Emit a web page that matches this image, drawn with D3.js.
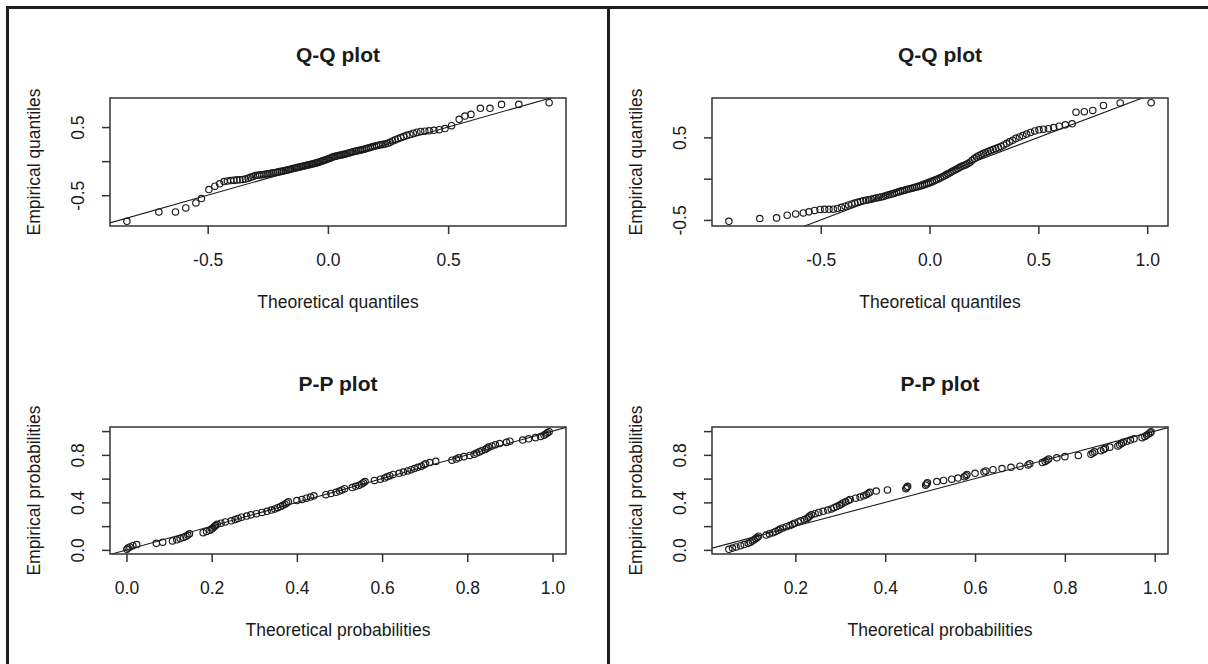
<!DOCTYPE html>
<html>
<head>
<meta charset="utf-8">
<script src="https://cdn.jsdelivr.net/npm/d3@7"></script>
<style>
  html, body { margin: 0; padding: 0; background: #fff; }
  svg { display: block; font-family: "Liberation Sans", Arial, sans-serif; }
</style>
</head>
<body>
<svg id="chart" width="1208" height="664"></svg>
<script>
// ---- Data: [theoretical, empirical] pairs for each diagnostic plot ----
const qqLeftPoints = [
  [-0.836,-0.882],[-0.703,-0.745],[-0.634,-0.745],[-0.591,-0.686],[-0.549,-0.613],[-0.526,-0.549],
  [-0.495,-0.417],[-0.470,-0.368],[-0.450,-0.333],[-0.432,-0.300],[-0.418,-0.290],[-0.404,-0.284],
  [-0.391,-0.282],[-0.378,-0.275],[-0.366,-0.272],[-0.354,-0.268],[-0.343,-0.262],[-0.332,-0.250],
  [-0.322,-0.238],[-0.312,-0.225],[-0.302,-0.212],[-0.293,-0.208],[-0.284,-0.204],[-0.275,-0.200],
  [-0.266,-0.196],[-0.257,-0.190],[-0.249,-0.186],[-0.241,-0.182],[-0.233,-0.176],[-0.225,-0.170],
  [-0.217,-0.166],[-0.209,-0.160],[-0.201,-0.154],[-0.193,-0.150],[-0.186,-0.145],[-0.178,-0.138],
  [-0.171,-0.132],[-0.163,-0.126],[-0.156,-0.119],[-0.149,-0.112],[-0.141,-0.106],[-0.134,-0.100],
  [-0.127,-0.094],[-0.120,-0.088],[-0.113,-0.082],[-0.106,-0.076],[-0.099,-0.070],[-0.092,-0.064],
  [-0.085,-0.058],[-0.078,-0.052],[-0.071,-0.047],[-0.064,-0.041],[-0.057,-0.035],[-0.050,-0.029],
  [-0.043,-0.022],[-0.036,-0.014],[-0.029,-0.006],[-0.022,0.004],[-0.015,0.012],[-0.008,0.020],
  [-0.001,0.030],[0.006,0.040],[0.013,0.050],[0.020,0.060],[0.027,0.068],[0.034,0.075],
  [0.041,0.080],[0.048,0.086],[0.055,0.090],[0.062,0.096],[0.069,0.102],[0.076,0.108],
  [0.083,0.116],[0.091,0.124],[0.098,0.132],[0.105,0.138],[0.113,0.145],[0.120,0.150],
  [0.128,0.156],[0.136,0.162],[0.143,0.168],[0.151,0.176],[0.159,0.184],[0.168,0.192],
  [0.176,0.200],[0.184,0.210],[0.193,0.218],[0.202,0.226],[0.211,0.234],[0.220,0.240],
  [0.229,0.246],[0.239,0.252],[0.249,0.262],[0.259,0.276],[0.269,0.296],[0.280,0.312],
  [0.291,0.328],[0.303,0.345],[0.315,0.360],[0.328,0.378],[0.341,0.392],[0.355,0.410],
  [0.370,0.425],[0.386,0.436],[0.403,0.440],[0.421,0.445],[0.441,0.452],[0.463,0.462],
  [0.487,0.478],[0.514,0.520],[0.546,0.613],[0.570,0.662],[0.595,0.686],[0.634,0.775],
  [0.674,0.775],[0.722,0.833],[0.794,0.833],[0.920,0.857]
];

const qqRightPoints = [
  [-0.922,-0.516],[-0.780,-0.483],[-0.703,-0.475],[-0.654,-0.443],[-0.615,-0.427],[-0.580,-0.415],
  [-0.554,-0.402],[-0.528,-0.385],[-0.503,-0.373],[-0.482,-0.372],[-0.462,-0.371],[-0.442,-0.370],
  [-0.423,-0.361],[-0.405,-0.348],[-0.388,-0.333],[-0.372,-0.318],[-0.357,-0.306],[-0.343,-0.296],
  [-0.330,-0.286],[-0.317,-0.276],[-0.304,-0.268],[-0.292,-0.262],[-0.280,-0.256],[-0.268,-0.249],
  [-0.256,-0.241],[-0.245,-0.234],[-0.234,-0.228],[-0.223,-0.222],[-0.212,-0.215],[-0.202,-0.207],
  [-0.192,-0.199],[-0.182,-0.192],[-0.172,-0.184],[-0.162,-0.178],[-0.152,-0.168],[-0.142,-0.160],
  [-0.133,-0.151],[-0.123,-0.146],[-0.114,-0.139],[-0.104,-0.132],[-0.095,-0.126],[-0.086,-0.118],
  [-0.077,-0.112],[-0.068,-0.107],[-0.059,-0.100],[-0.050,-0.094],[-0.041,-0.088],[-0.032,-0.080],
  [-0.023,-0.072],[-0.014,-0.064],[-0.005,-0.056],[0.004,-0.046],[0.013,-0.036],[0.022,-0.025],
  [0.031,-0.014],[0.040,-0.004],[0.049,0.008],[0.058,0.020],[0.067,0.032],[0.076,0.046],
  [0.085,0.060],[0.094,0.072],[0.103,0.086],[0.112,0.098],[0.121,0.110],[0.130,0.124],
  [0.139,0.138],[0.148,0.150],[0.158,0.160],[0.167,0.170],[0.177,0.184],[0.186,0.200],
  [0.196,0.222],[0.206,0.244],[0.216,0.262],[0.226,0.278],[0.237,0.292],[0.247,0.304],
  [0.258,0.316],[0.269,0.328],[0.280,0.340],[0.292,0.352],[0.304,0.364],[0.316,0.376],
  [0.328,0.390],[0.341,0.408],[0.354,0.426],[0.368,0.446],[0.382,0.466],[0.397,0.488],
  [0.413,0.506],[0.429,0.522],[0.446,0.540],[0.464,0.560],[0.483,0.578],[0.503,0.592],
  [0.524,0.600],[0.546,0.606],[0.570,0.620],[0.596,0.636],[0.624,0.652],[0.655,0.665],
  [0.673,0.805],[0.711,0.812],[0.750,0.826],[0.799,0.887],[0.876,0.918],[1.018,0.920]
];

const ppLeftTheoretical = [
  0.001,0.004,0.008,0.015,0.024,0.070,0.085,0.108,0.118,0.126,
  0.134,0.140,0.144,0.148,0.180,0.188,0.196,0.200,0.203,0.206,
  0.209,0.213,0.222,0.232,0.246,0.255,0.262,0.270,0.282,0.292,
  0.305,0.318,0.330,0.340,0.348,0.355,0.362,0.367,0.372,0.376,
  0.380,0.400,0.412,0.422,0.432,0.440,0.468,0.480,0.492,0.500,
  0.506,0.512,0.530,0.538,0.546,0.552,0.556,0.560,0.582,0.596,
  0.606,0.612,0.618,0.626,0.640,0.650,0.660,0.668,0.676,0.684,
  0.692,0.698,0.702,0.712,0.726,0.764,0.774,0.780,0.792,0.806,
  0.816,0.822,0.828,0.834,0.842,0.846,0.850,0.858,0.866,0.876,
  0.892,0.900,0.930,0.944,0.960,0.972,0.980,0.984,0.988,0.992
];
const ppRightTheoretical = [
  0.052,0.060,0.068,0.078,0.086,0.095,0.100,0.104,0.108,0.112,
  0.115,0.118,0.135,0.142,0.150,0.156,0.162,0.166,0.172,0.180,
  0.188,0.194,0.198,0.206,0.212,0.220,0.226,0.229,0.232,0.236,
  0.244,0.252,0.262,0.272,0.280,0.286,0.292,0.298,0.302,0.306,
  0.312,0.318,0.322,0.334,0.344,0.352,0.358,0.362,0.366,0.380,
  0.405,0.446,0.448,0.450,0.490,0.492,0.494,0.515,0.530,0.548,
  0.562,0.576,0.580,0.582,0.600,0.620,0.624,0.640,0.660,0.680,
  0.700,0.718,0.722,0.750,0.756,0.760,0.764,0.782,0.800,0.830,
  0.858,0.862,0.866,0.880,0.886,0.890,0.900,0.918,0.922,0.926,
  0.930,0.938,0.946,0.954,0.972,0.978,0.982,0.986,0.990,0.992
];
// Empirical probabilities (plotting positions shared by both P-P plots)
const ppEmpirical = [
  0.005,0.015,0.025,0.035,0.045,0.055,0.065,0.075,0.085,0.095,
  0.105,0.115,0.125,0.135,0.145,0.155,0.165,0.175,0.185,0.195,
  0.205,0.215,0.225,0.235,0.245,0.255,0.265,0.275,0.285,0.295,
  0.305,0.315,0.325,0.335,0.345,0.355,0.365,0.375,0.385,0.395,
  0.405,0.415,0.425,0.435,0.445,0.455,0.465,0.475,0.485,0.495,
  0.505,0.515,0.525,0.535,0.545,0.555,0.565,0.575,0.585,0.595,
  0.605,0.615,0.625,0.635,0.645,0.655,0.665,0.675,0.685,0.695,
  0.705,0.715,0.725,0.735,0.745,0.755,0.765,0.775,0.785,0.795,
  0.805,0.815,0.825,0.835,0.845,0.855,0.865,0.875,0.885,0.895,
  0.905,0.915,0.925,0.935,0.945,0.955,0.965,0.975,0.985,0.995
];

// ---- Axis ticks and labels ----
const qqLeftXTicks = [-0.5, 0, 0.5];
const qqRightXTicks = [-0.5, 0, 0.5, 1.0];
const qqYTicks = [-0.5, 0, 0.5];
const qqYTickLabels = ["-0.5", "", "0.5"];
const ppLeftXTicks = [0, 0.2, 0.4, 0.6, 0.8, 1.0];
const ppRightXTicks = [0.2, 0.4, 0.6, 0.8, 1.0];
const ppYTicks = [0, 0.2, 0.4, 0.6, 0.8, 1.0];
const ppYTickLabels = ["0.0", "", "0.4", "", "0.8", ""];

const qqTitle = "Q-Q plot", ppTitle = "P-P plot";
const qqXLabel = "Theoretical quantiles", qqYLabel = "Empirical quantiles";
const ppXLabel = "Theoretical probabilities", ppYLabel = "Empirical probabilities";

// ---- Layout ----
const columns = [{ x0: 110, x1: 566 }, { x0: 712, x1: 1168 }];
const rows = [{ y0: 98, y1: 226 }, { y0: 427, y1: 554 }];
const axisFont = 17.5, titleFont = 21, ink = "#1a1a1a", frameInk = "#333";

const panels = [
  { col: 0, row: 0, pts: qqLeftPoints, title: qqTitle, xl: qqXLabel, yl: qqYLabel,
    xt: qqLeftXTicks, yt: qqYTicks, ytl: qqYTickLabels },
  { col: 1, row: 0, pts: qqRightPoints, title: qqTitle, xl: qqXLabel, yl: qqYLabel,
    xt: qqRightXTicks, yt: qqYTicks, ytl: qqYTickLabels },
  { col: 0, row: 1, pts: ppLeftTheoretical.map((v, i) => [v, ppEmpirical[i]]), title: ppTitle,
    xl: ppXLabel, yl: ppYLabel, xt: ppLeftXTicks, yt: ppYTicks, ytl: ppYTickLabels },
  { col: 1, row: 1, pts: ppRightTheoretical.map((v, i) => [v, ppEmpirical[i]]), title: ppTitle,
    xl: ppXLabel, yl: ppYLabel, xt: ppRightXTicks, yt: ppYTicks, ytl: ppYTickLabels }
];

const svg = d3.select("#chart");

// Extent padded by 4% on each side, like base graphics default axes
function paddedExtent(vals) {
  const [a, b] = d3.extent(vals);
  const p = (b - a) * 0.04;
  return [a - p, b + p];
}

panels.forEach((p, idx) => {
  const { x0, x1 } = columns[p.col];
  const { y0, y1 } = rows[p.row];
  const x = d3.scaleLinear().domain(paddedExtent(p.pts.map(d => d[0]))).range([x0, x1]);
  const y = d3.scaleLinear().domain(paddedExtent(p.pts.map(d => d[1]))).range([y1, y0]);
  const g = svg.append("g");

  const clipId = "clip" + idx;
  svg.append("clipPath").attr("id", clipId)
    .append("rect").attr("x", x0).attr("y", y0).attr("width", x1 - x0).attr("height", y1 - y0);

  // Reference line y = x
  const lo = Math.min(x.domain()[0], y.domain()[0]);
  const hi = Math.max(x.domain()[1], y.domain()[1]);
  g.append("line").attr("clip-path", `url(#${clipId})`)
    .attr("x1", x(lo)).attr("y1", y(lo)).attr("x2", x(hi)).attr("y2", y(hi))
    .attr("stroke", ink).attr("stroke-width", 1.1);

  // Points
  g.append("g").attr("clip-path", `url(#${clipId})`)
    .selectAll("circle").data(p.pts).join("circle")
    .attr("cx", d => x(d[0])).attr("cy", d => y(d[1])).attr("r", 3.2)
    .attr("fill", "none").attr("stroke", ink).attr("stroke-width", 1.15);

  // Box
  g.append("rect").attr("x", x0).attr("y", y0).attr("width", x1 - x0).attr("height", y1 - y0)
    .attr("fill", "none").attr("stroke", frameInk).attr("stroke-width", 1.5);

  // Bottom axis
  const ax = g.append("g").attr("transform", `translate(0,${y1})`)
    .call(d3.axisBottom(x).tickValues(p.xt).tickSize(8).tickPadding(19.5)
      .tickFormat(d => d.toFixed(1)));
  ax.select(".domain").remove();
  ax.attr("font-size", axisFont).attr("font-family", null).attr("color", frameInk);
  ax.selectAll(".tick line").attr("stroke-width", 1.5);
  ax.selectAll(".tick text").attr("fill", ink);

  // Left axis with rotated labels
  const ay = g.append("g").attr("transform", `translate(${x0},0)`)
    .call(d3.axisLeft(y).tickValues(p.yt).tickSize(8).tickFormat((d, i) => p.ytl[i]));
  ay.select(".domain").remove();
  ay.attr("font-size", axisFont).attr("font-family", null).attr("color", frameInk);
  ay.selectAll(".tick line").attr("stroke-width", 1.5);
  ay.selectAll(".tick text").attr("fill", ink)
    .attr("x", 0).attr("y", 0).attr("dy", null)
    .attr("text-anchor", "middle")
    .attr("transform", "translate(-26,0) rotate(-90)");

  // Titles
  const cx = (x0 + x1) / 2;
  g.append("text").attr("x", cx).attr("y", y0 - 36).attr("text-anchor", "middle")
    .attr("font-size", titleFont).attr("font-weight", "bold").attr("fill", ink).text(p.title);
  g.append("text").attr("x", cx).attr("y", y1 + 82).attr("text-anchor", "middle")
    .attr("font-size", axisFont).attr("fill", ink).text(p.xl);
  g.append("text").attr("text-anchor", "middle")
    .attr("transform", `translate(${x0 - 70},${(y0 + y1) / 2}) rotate(-90)`)
    .attr("font-size", axisFont).attr("fill", ink).text(p.yl);
});

// Outer frame: top and left edges plus the column divider
const frame = svg.append("g").attr("stroke", "#1e1e1e").attr("stroke-width", 3);
frame.append("line").attr("x1", 6).attr("y1", 7.5).attr("x2", 1208).attr("y2", 7.5);
frame.append("line").attr("x1", 7.5).attr("y1", 6).attr("x2", 7.5).attr("y2", 664);
frame.append("line").attr("x1", 608.5).attr("y1", 6).attr("x2", 608.5).attr("y2", 664);
</script>
</body>
</html>
